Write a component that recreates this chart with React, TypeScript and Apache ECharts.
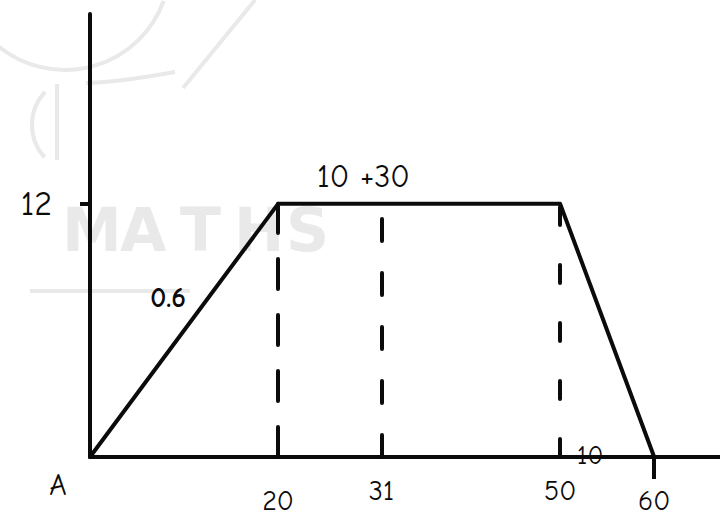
import React, { useEffect, useRef } from "react";
import * as echarts from "echarts";

// speed–time profile (time in s, speed in m/s)
const profileTimes = [0, 20, 50, 60];
const profileSpeeds = [0, 12, 12, 0];
const xTickLabels = [20, 31, 50, 60];
const yTickLabels = [12];
const guideTimes = [20, 31, 50];
const guideTop = 12;

const INK = "#0b0b0b";
const FAINT = "#e9e9e9";
const HAND = "'Comic Neue', 'DejaVu Sans', sans-serif";

export default function App() {
  const ref = useRef<HTMLDivElement>(null);

  useEffect(() => {
    if (!ref.current) return;
    const chart = echarts.init(ref.current, null, { renderer: "svg" });

    const profile = profileTimes.map((t, i) => [t, profileSpeeds[i]]);
    const dashStyles = [
      [30, 26],
      [22, 32],
      [18, 40],
    ];
    const guides = guideTimes.map((t, i) => [
      { coord: [t, 0], lineStyle: { type: dashStyles[i], width: 4, color: INK, cap: "round" } },
      { coord: [t, guideTop] },
    ]);

    const lowLabels = new Set([20, 60]);

    const letters = ["M", "A", "T", "H", "S"];
    const letterX = [62, 120, 180, 234, 286];

    chart.setOption({
      animation: false,
      backgroundColor: "#ffffff",
      grid: { left: 90, right: 0, top: 14, bottom: 64, outerBoundsMode: "none" },
      xAxis: {
        type: "value",
        min: 0,
        max: 67,
        splitLine: { show: false },
        axisLine: { lineStyle: { color: INK, width: 4 } },
        axisTick: { show: true, customValues: [60], length: 22, lineStyle: { color: INK, width: 4 } },
        axisLabel: {
          customValues: xTickLabels,
          color: INK,
          margin: 16,
          formatter: (v: number) => (lowLabels.has(v) ? `{lo|${v}}` : `{hi|${v}}`),
          rich: {
            lo: { fontSize: 28, fontFamily: HAND, color: INK, padding: [14, 0, 0, 0] },
            hi: { fontSize: 28, fontFamily: HAND, color: INK, padding: [4, 0, 0, 0] },
          },
        },
      },
      yAxis: {
        type: "value",
        min: 0,
        max: 21,
        splitLine: { show: false },
        axisLine: { lineStyle: { color: INK, width: 4 } },
        axisTick: { show: true, customValues: [12], length: 10, lineStyle: { color: INK, width: 4 } },
        axisLabel: {
          customValues: yTickLabels,
          color: INK,
          fontSize: 34,
          fontFamily: HAND,
          margin: 38,
        },
      },
      graphic: [
        ...letters.map((ch, i) => ({
          type: "text",
          left: letterX[i],
          top: 200,
          z: -10,
          style: { text: ch, fill: FAINT, font: "bold 60px 'DejaVu Sans', sans-serif" },
        })),
        { type: "arc", z: -10, shape: { cx: 65, cy: -35, r: 105, startAngle: 0.35, endAngle: 2.25 }, style: { stroke: FAINT, lineWidth: 4, fill: "none" } },
        { type: "line", z: -10, shape: { x1: 183, y1: 88, x2: 255, y2: 0 }, style: { stroke: FAINT, lineWidth: 4 } },
        { type: "line", z: -10, shape: { x1: 57, y1: 84, x2: 57, y2: 160 }, style: { stroke: FAINT, lineWidth: 4 } },
        { type: "arc", z: -10, shape: { cx: 80, cy: 125, r: 48, startAngle: 2.4, endAngle: 3.9 }, style: { stroke: FAINT, lineWidth: 4, fill: "none" } },
        { type: "bezierCurve", z: -10, shape: { x1: 86, y1: 83, x2: 175, y2: 72, cpx1: 120, cpy1: 82 }, style: { stroke: FAINT, lineWidth: 4, fill: "none" } },
        { type: "line", z: -10, shape: { x1: 30, y1: 291, x2: 190, y2: 291 }, style: { stroke: FAINT, lineWidth: 4 } },
      ],
      series: [
        {
          type: "line",
          data: profile,
          symbol: "none",
          lineStyle: { color: INK, width: 4, join: "round", cap: "round" },
          markLine: {
            silent: true,
            symbol: "none",
            label: { show: false },
            data: guides,
          },
          markPoint: {
            silent: true,
            symbol: "rect",
            symbolSize: 0,
            label: { show: true, color: INK, fontFamily: HAND },
            data: [
              { coord: [0, 0], value: "A", label: { formatter: "A", fontSize: 30, offset: [-32, 28] } },
              { coord: [10, 6], value: "0.6", label: { formatter: "0.6", fontSize: 28, fontWeight: "bold", offset: [-16, -32] } },
              { coord: [31, 12], value: "10 +30", label: { formatter: "10 +30", fontSize: 32, offset: [-18, -27] } },
              { coord: [55, 0], value: "10", label: { formatter: "10", fontSize: 26, offset: [-17, -1] } },
            ],
          },
        },
      ],
    });

    return () => chart.dispose();
  }, []);

  return (
    <div
      ref={ref}
      style={{ position: "fixed", left: 0, top: 0, width: 720, height: 521, background: "#fff" }}
    />
  );
}
